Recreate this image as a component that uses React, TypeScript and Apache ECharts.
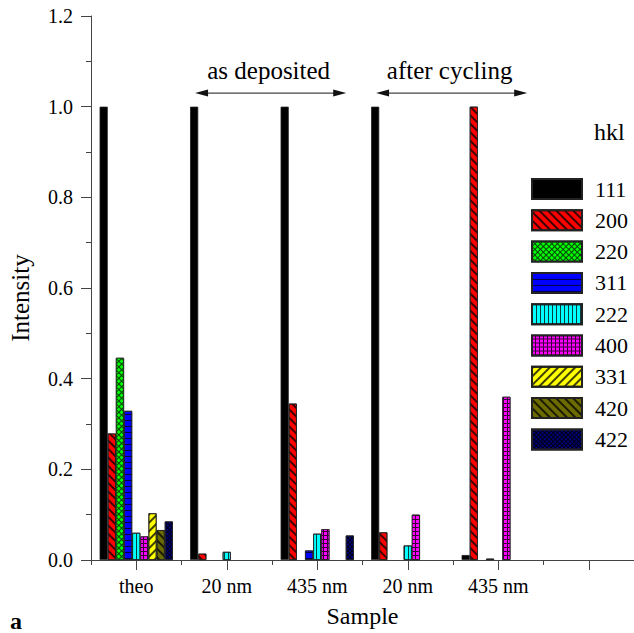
import React, { useEffect, useRef } from 'react';
import * as echarts from 'echarts';

// ---- data ----
const categoryLabels = ['theo', '20 nm', '435 nm', '20 nm', '435 nm', ''];
const hklNames = ['111', '200', '220', '311', '222', '400', '331', '420', '422'];
const v111 = [1.0, 1.0, 1.0, 1.0, 0.011, null];
const v200 = [0.279, 0.014, 0.345, 0.061, 1.0, null];
const v220 = [0.446, null, null, null, null, null];
const v311 = [0.329, null, 0.021, null, 0.003, null];
const v222 = [0.06, 0.018, 0.058, 0.032, null, null];
const v400 = [0.052, null, 0.068, 0.1, 0.36, null];
const v331 = [0.103, null, null, null, null, null];
const v420 = [0.066, null, null, null, null, null];
const v422 = [0.085, null, 0.054, null, null, null];
const seriesValues = [v111, v200, v220, v311, v222, v400, v331, v420, v422];
const yMin = 0;
const yMax = 1.2;
const yInterval = 0.2;
const annotations = [
  { text: 'as deposited', from: 1, to: 2 },
  { text: 'after cycling', from: 3, to: 4 },
];
const legendTitle = 'hkl';
const panelLetter = 'a';

// ---- styles ----
const FONT = 'Liberation Serif';
const ink = 'rgba(0,0,0,0.75)';
const stripe = (rotation: number, color = ink) => ({
  symbol: 'rect', symbolSize: 1, color, dashArrayX: [1, 0], dashArrayY: [1.3, 3.2], rotation,
});
const seriesStyles: any[] = [
  { color: '#000000', decal: 'none' },
  { color: '#ff0000', decal: stripe(Math.PI / 4) },
  { color: '#0b3d0b', decal: { symbol: 'rect', symbolSize: 1, color: '#00ff00', dashArrayX: [3, 1], dashArrayY: [3, 1], rotation: Math.PI / 4 } },
  { color: '#0000ff', decal: { symbol: 'rect', symbolSize: 1, color: ink, dashArrayX: [1, 0], dashArrayY: [1, 4.5], rotation: 0 } },
  { color: '#00ffff', decal: { symbol: 'rect', symbolSize: 1, color: ink, dashArrayX: [1, 3], dashArrayY: [1, 0], rotation: 0 } },
  { color: '#3a003a', decal: { symbol: 'rect', symbolSize: 1, color: '#ff00ff', dashArrayX: [3, 1], dashArrayY: [3, 1], rotation: 0 } },
  { color: '#ffff00', decal: stripe(-Math.PI / 4) },
  { color: '#6b6b00', decal: stripe(Math.PI / 4) },
  { color: '#000014', decal: { symbol: 'rect', symbolSize: 1, color: '#000080', dashArrayX: [2, 1], dashArrayY: [2, 1], rotation: Math.PI / 4 } },
];

export default function App() {
  const ref = useRef<HTMLDivElement>(null);
  useEffect(() => {
    if (!ref.current) return;
    const chart = echarts.init(ref.current, undefined, { renderer: 'svg' });
    const axisColor = '#444';
    const option: any = {
      animation: false,
      backgroundColor: '#ffffff',
      textStyle: { fontFamily: FONT },
      grid: { left: 90, top: 16, width: 548, height: 550, containLabel: false },
      title: {
        text: legendTitle,
        left: 594,
        top: 120,
        padding: 0,
        textStyle: { fontFamily: FONT, fontSize: 24, lineHeight: 24, fontWeight: 'normal', color: '#000' },
      },
      legend: {
        data: hklNames,
        orient: 'vertical',
        left: 531,
        top: 178,
        padding: 0,
        itemWidth: 50,
        itemHeight: 20,
        itemGap: 9.3,
        icon: 'rect',
        selectedMode: false,
        textStyle: { fontFamily: FONT, fontSize: 22, lineHeight: 20, color: '#000', padding: [0, 0, 0, 8] },
      },
      xAxis: [
        {
          type: 'category',
          data: categoryLabels.map((_, i) => String(i)),
          position: 'bottom',
          boundaryGap: true,
          axisLine: { lineStyle: { color: axisColor, width: 1 } },
          axisTick: { show: true, alignWithLabel: false, length: 5, lineStyle: { color: axisColor } },
          axisLabel: {
            formatter: (v: string) => categoryLabels[Number(v)],
            fontFamily: FONT, fontSize: 20, color: '#000', margin: 16,
          },
          name: 'Sample',
          nameLocation: 'middle',
          nameGap: 44,
          nameMoveOverlap: false,
          nameTextStyle: { fontFamily: FONT, fontSize: 24, color: '#000' },
          splitLine: { show: false },
        },
        {
          type: 'category',
          data: categoryLabels.map((_, i) => String(i)),
          position: 'bottom',
          boundaryGap: true,
          axisLine: { show: false },
          axisTick: { show: true, alignWithLabel: true, length: 10, lineStyle: { color: axisColor } },
          axisLabel: { show: false },
          splitLine: { show: false },
        },
      ],
      yAxis: {
        type: 'value',
        min: yMin,
        max: yMax,
        interval: yInterval,
        axisLine: { show: true, lineStyle: { color: axisColor, width: 1 } },
        axisTick: { show: true, length: 10, lineStyle: { color: axisColor } },
        minorTick: { show: true, splitNumber: 2, length: 5, lineStyle: { color: axisColor } },
        splitLine: { show: false },
        axisLabel: {
          formatter: (v: number) => v.toFixed(1),
          fontFamily: FONT, fontSize: 20, color: '#000', margin: 18,
        },
        name: 'Intensity',
        nameLocation: 'middle',
        nameRotate: 90,
        nameGap: 58,
        nameMoveOverlap: false,
        nameTextStyle: { fontFamily: FONT, fontSize: 25, color: '#000', padding: [0, 20, 0, 0] },
      },
      series: hklNames.map((name, i) => ({
        name,
        type: 'bar',
        xAxisIndex: 0,
        yAxisIndex: 0,
        data: seriesValues[i],
        barGap: '0%',
        barCategoryGap: '19%',
        itemStyle: {
          color: seriesStyles[i].color,
          decal: seriesStyles[i].decal,
          borderColor: '#222',
          borderWidth: 0.8,
        },
      })),
    };
    chart.setOption(option);

    // annotation arrows placed through the axes' own scales
    const c = (i: number) => chart.convertToPixel({ xAxisIndex: 0 }, i) as number;
    const bw = c(1) - c(0);
    const yA = chart.convertToPixel({ yAxisIndex: 0 }, 1.03) as number;
    const elements: any[] = [];
    annotations.forEach((a) => {
      const x0 = c(a.from) - 0.35 * bw;
      const x1 = c(a.to) + 0.32 * bw;
      const head = 13;
      const hw = 3.5;
      elements.push({
        type: 'line', shape: { x1: x0 + head - 2, y1: yA, x2: x1 - head + 2, y2: yA },
        style: { stroke: '#444', lineWidth: 1.2 }, silent: true,
      });
      elements.push({
        type: 'polygon', shape: { points: [[x0, yA], [x0 + head, yA - hw], [x0 + head, yA + hw]] },
        style: { fill: '#111' }, silent: true,
      });
      elements.push({
        type: 'polygon', shape: { points: [[x1, yA], [x1 - head, yA - hw], [x1 - head, yA + hw]] },
        style: { fill: '#111' }, silent: true,
      });
      elements.push({
        type: 'text', x: (x0 + x1) / 2 - 2, y: yA - 23,
        style: { text: a.text, fontFamily: FONT, fontSize: 25, fill: '#000', align: 'center', verticalAlign: 'middle' },
        silent: true,
      });
    });
    elements.push({
      type: 'text', x: 10, y: 621,
      style: { text: panelLetter, fontFamily: FONT, fontSize: 24, fontWeight: 'bold', fill: '#000', align: 'left', verticalAlign: 'middle' },
      silent: true,
    });
    chart.setOption({ graphic: elements });

    return () => chart.dispose();
  }, []);
  return (
    <div
      ref={ref}
      style={{ position: 'fixed', left: 0, top: 0, width: 634, height: 633, background: '#fff' }}
    />
  );
}
